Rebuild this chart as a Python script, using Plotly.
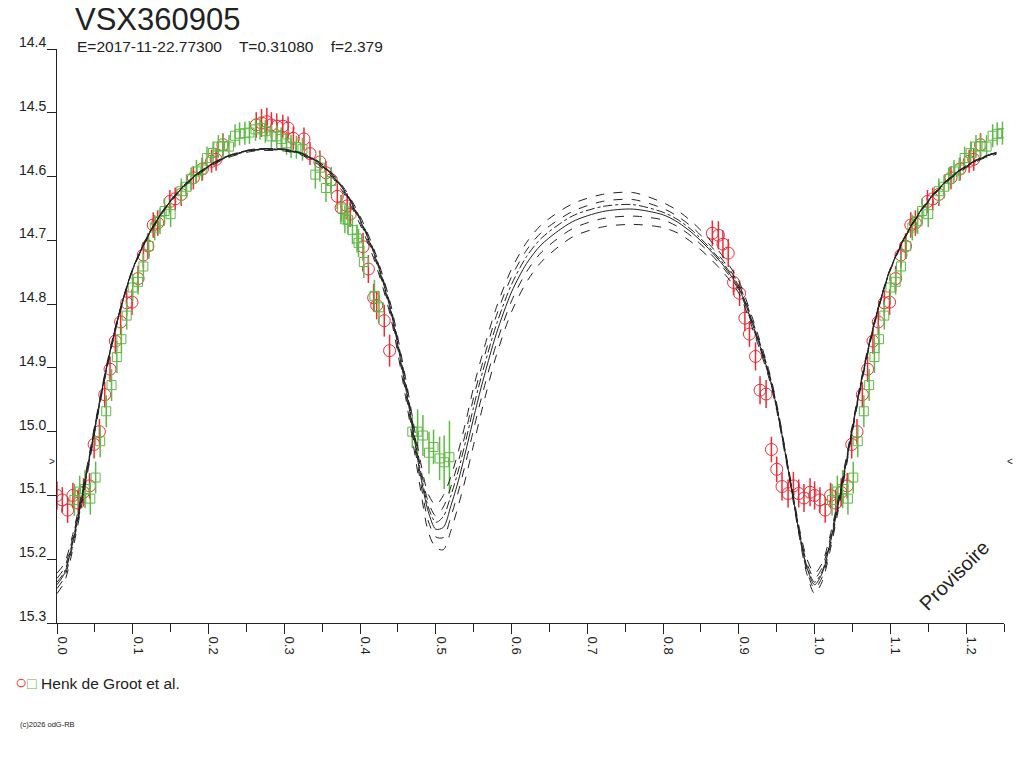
import plotly.graph_objects as go

# ---------------- data ----------------
title_text = "VSX360905"
subtitle_text = "E=2017-11-22.77300    T=0.31080    f=2.379"
legend_text = "Henk de Groot et al."
copyright_text = "(c)2026 odG-RB"
watermark_text = "Provisoire"

x_tick_vals = [0.0, 0.1, 0.2, 0.3, 0.4, 0.5, 0.6, 0.7, 0.8, 0.9, 1.0, 1.1, 1.2]
x_tick_text = ["0.0", "0.1", "0.2", "0.3", "0.4", "0.5", "0.6", "0.7", "0.8", "0.9", "1.0", "1.1", "1.2"]
y_tick_vals = [14.4, 14.5, 14.6, 14.7, 14.8, 14.9, 15.0, 15.1, 15.2, 15.3]
y_tick_text = ["14.4", "14.5", "14.6", "14.7", "14.8", "14.9", "15.0", "15.1", "15.2", "15.3"]
marker_level = 15.047

# red circles: phase, magnitude, error
red_phase = [0.000, 0.007, 0.014, 0.021, 0.028, 0.035, 0.043, 0.049, 0.056, 0.063,
             0.070, 0.077, 0.084, 0.092, 0.099, 0.107, 0.114, 0.120, 0.127, 0.133,
             0.149, 0.156, 0.164, 0.180, 0.192, 0.204, 0.210, 0.219, 0.263, 0.270,
             0.277, 0.283, 0.290, 0.298, 0.305, 0.312, 0.326, 0.334, 0.347, 0.355,
             0.362, 0.370, 0.375, 0.383, 0.387, 0.404, 0.411, 0.418, 0.422, 0.432,
             0.439,
             0.865, 0.873, 0.879, 0.886, 0.893, 0.901, 0.908, 0.914, 0.922, 0.928,
             0.936, 0.943, 0.950, 0.957, 0.965, 0.972, 0.979, 0.986, 0.994]
red_mag = [15.100, 15.107, 15.123, 15.100, 15.112, 15.095, 15.085, 15.020, 15.000, 14.942,
           14.902, 14.858, 14.828, 14.798, 14.797, 14.760, 14.723, 14.709, 14.676, 14.673,
           14.639, 14.635, 14.628, 14.602, 14.588, 14.576, 14.573, 14.550, 14.519, 14.516,
           14.514, 14.519, 14.521, 14.521, 14.524, 14.540, 14.541, 14.564, 14.577, 14.594,
           14.605, 14.631, 14.649, 14.646, 14.659, 14.710, 14.745, 14.790, 14.802, 14.826,
           14.873,
           14.689, 14.692, 14.706, 14.720, 14.766, 14.783, 14.822, 14.847, 14.882, 14.935,
           14.941, 15.028, 15.059, 15.086, 15.097, 15.085, 15.097, 15.104, 15.095]
red_err = [0.022, 0.020, 0.020, 0.020, 0.020, 0.022, 0.020, 0.022, 0.020, 0.020,
           0.020, 0.020, 0.020, 0.020, 0.020, 0.020, 0.020, 0.020, 0.020, 0.020,
           0.018, 0.018, 0.018, 0.018, 0.018, 0.018, 0.018, 0.018, 0.020, 0.022,
           0.022, 0.020, 0.020, 0.018, 0.018, 0.018, 0.018, 0.018, 0.018, 0.018,
           0.018, 0.020, 0.020, 0.020, 0.020, 0.022, 0.022, 0.022, 0.022, 0.025,
           0.025,
           0.020, 0.022, 0.022, 0.022, 0.020, 0.020, 0.020, 0.020, 0.022, 0.022,
           0.022, 0.020, 0.020, 0.022, 0.022, 0.022, 0.022, 0.022, 0.022]

# green squares: phase, magnitude, error
green_phase = [0.023, 0.030, 0.037, 0.044, 0.051, 0.057, 0.065, 0.072, 0.079, 0.085,
               0.092, 0.100, 0.107, 0.114, 0.121, 0.129, 0.136, 0.142, 0.150, 0.164,
               0.171, 0.177, 0.184, 0.191, 0.198, 0.206, 0.213, 0.219, 0.227, 0.235,
               0.241, 0.248, 0.254, 0.262, 0.268, 0.275, 0.283, 0.290, 0.296, 0.303,
               0.309, 0.316, 0.324, 0.341, 0.347, 0.355, 0.362, 0.376, 0.380, 0.384,
               0.390, 0.396, 0.398, 0.405, 0.419, 0.425,
               0.469, 0.476, 0.483, 0.491, 0.497, 0.505, 0.511, 0.518]
green_mag = [15.107, 15.094, 15.090, 15.105, 15.072, 15.015, 14.968, 14.927, 14.883, 14.855,
             14.818, 14.774, 14.765, 14.741, 14.709, 14.680, 14.670, 14.654, 14.659, 14.623,
             14.616, 14.604, 14.592, 14.589, 14.571, 14.563, 14.553, 14.552, 14.553, 14.536,
             14.533, 14.532, 14.531, 14.526, 14.524, 14.529, 14.537, 14.537, 14.541, 14.548,
             14.553, 14.554, 14.557, 14.597, 14.586, 14.618, 14.607, 14.650, 14.667, 14.668,
             14.684, 14.697, 14.704, 14.734, 14.787, 14.805,
             15.000, 15.000, 15.006, 15.033, 15.024, 15.042, 15.048, 15.040]
green_err = [0.025, 0.025, 0.030, 0.025, 0.025, 0.025, 0.025, 0.025, 0.025, 0.022,
             0.022, 0.022, 0.020, 0.020, 0.020, 0.020, 0.020, 0.020, 0.020, 0.020,
             0.018, 0.018, 0.018, 0.018, 0.018, 0.018, 0.018, 0.018, 0.018, 0.018,
             0.018, 0.018, 0.018, 0.018, 0.018, 0.018, 0.018, 0.018, 0.018, 0.018,
             0.018, 0.018, 0.018, 0.022, 0.022, 0.022, 0.022, 0.022, 0.022, 0.022,
             0.022, 0.022, 0.022, 0.025, 0.025, 0.025,
             0.026, 0.035, 0.032, 0.033, 0.027, 0.034, 0.042, 0.057]

# model curves (phase grid shared by all six curves)
curve_phase = [0.00, 0.01, 0.02, 0.03, 0.04, 0.05, 0.06, 0.07, 0.08, 0.09,
               0.10, 0.12, 0.14, 0.16, 0.18, 0.20, 0.22, 0.24, 0.26, 0.28,
               0.30, 0.32, 0.34, 0.36, 0.38, 0.40, 0.42, 0.44, 0.46, 0.47,
               0.48, 0.49, 0.50, 0.51, 0.52, 0.53, 0.54, 0.55, 0.56, 0.58,
               0.60, 0.62, 0.64, 0.68, 0.72, 0.76, 0.80, 0.82, 0.84, 0.86,
               0.88, 0.90, 0.92, 0.94, 0.95, 0.96, 0.97, 0.98, 0.99, 1.00]
curve_a = [15.222, 15.206, 15.165, 15.112, 15.052, 14.989, 14.927, 14.871, 14.822, 14.780,
           14.744, 14.692, 14.653, 14.623, 14.600, 14.583, 14.570, 14.562, 14.557, 14.556,
           14.557, 14.562, 14.572, 14.591, 14.620, 14.662, 14.719, 14.798, 14.915, 14.983,
           15.048, 15.098, 15.115, 15.100, 15.070, 15.030, 14.982, 14.930, 14.885, 14.805,
           14.745, 14.703, 14.675, 14.643, 14.628, 14.625, 14.641, 14.654, 14.673, 14.697,
           14.727, 14.764, 14.829, 14.905, 14.956, 15.020, 15.086, 15.152, 15.200, 15.222]
curve_b = [15.230, 15.213, 15.170, 15.116, 15.055, 14.991, 14.929, 14.873, 14.823, 14.781,
           14.744, 14.692, 14.653, 14.623, 14.600, 14.583, 14.570, 14.562, 14.557, 14.556,
           14.557, 14.562, 14.573, 14.592, 14.622, 14.665, 14.722, 14.802, 14.920, 14.990,
           15.057, 15.110, 15.132, 15.118, 15.086, 15.046, 14.998, 14.946, 14.900, 14.818,
           14.757, 14.715, 14.687, 14.655, 14.639, 14.636, 14.650, 14.663, 14.681, 14.705,
           14.733, 14.769, 14.833, 14.908, 14.959, 15.022, 15.089, 15.156, 15.207, 15.230]
curve_c = [15.236, 15.219, 15.175, 15.119, 15.058, 14.993, 14.930, 14.874, 14.824, 14.781,
           14.745, 14.693, 14.654, 14.624, 14.601, 14.584, 14.571, 14.563, 14.558, 14.557,
           14.558, 14.563, 14.574, 14.593, 14.623, 14.667, 14.724, 14.805, 14.925, 14.995,
           15.063, 15.118, 15.142, 15.133, 15.100, 15.060, 15.012, 14.961, 14.914, 14.832,
           14.769, 14.725, 14.696, 14.662, 14.647, 14.644, 14.656, 14.668, 14.686, 14.710,
           14.737, 14.772, 14.836, 14.910, 14.961, 15.024, 15.091, 15.158, 15.212, 15.236]
curve_d = [15.240, 15.222, 15.178, 15.122, 15.060, 14.995, 14.932, 14.875, 14.825, 14.782,
           14.745, 14.693, 14.654, 14.624, 14.601, 14.584, 14.571, 14.563, 14.558, 14.557,
           14.558, 14.563, 14.574, 14.594, 14.624, 14.668, 14.726, 14.808, 14.930, 15.000,
           15.070, 15.125, 15.153, 15.150, 15.116, 15.076, 15.028, 14.978, 14.930, 14.846,
           14.781, 14.736, 14.706, 14.671, 14.655, 14.651, 14.660, 14.672, 14.690, 14.713,
           14.740, 14.775, 14.838, 14.912, 14.962, 15.025, 15.092, 15.160, 15.214, 15.240]
curve_e = [15.246, 15.228, 15.183, 15.126, 15.063, 14.997, 14.934, 14.877, 14.826, 14.783,
           14.746, 14.694, 14.655, 14.625, 14.602, 14.585, 14.572, 14.564, 14.559, 14.558,
           14.559, 14.564, 14.575, 14.595, 14.626, 14.671, 14.730, 14.812, 14.937, 15.008,
           15.080, 15.140, 15.165, 15.166, 15.133, 15.093, 15.046, 14.996, 14.948, 14.862,
           14.795, 14.749, 14.718, 14.682, 14.666, 14.662, 14.668, 14.679, 14.696, 14.718,
           14.744, 14.778, 14.841, 14.914, 14.964, 15.027, 15.094, 15.163, 15.219, 15.246]
curve_f = [15.254, 15.235, 15.189, 15.131, 15.067, 15.000, 14.936, 14.879, 14.828, 14.784,
           14.747, 14.695, 14.656, 14.626, 14.603, 14.586, 14.573, 14.565, 14.560, 14.559,
           14.560, 14.565, 14.577, 14.597, 14.629, 14.675, 14.735, 14.818, 14.945, 15.018,
           15.092, 15.157, 15.182, 15.185, 15.155, 15.115, 15.070, 15.020, 14.970, 14.880,
           14.812, 14.765, 14.733, 14.695, 14.679, 14.675, 14.680, 14.689, 14.705, 14.726,
           14.751, 14.783, 14.845, 14.917, 14.967, 15.030, 15.097, 15.166, 15.224, 15.254]
curve_sets = [curve_a, curve_b, curve_c, curve_d, curve_e, curve_f]
curve_dashes = ["dash", "dash", "dashdot", "solid", "dash", "dash"]

RED = "#ee2a35"
GREEN = "#5fba46"
INK = "#222222"
FONT = "Liberation Sans"


def wrap(phases, values):
    """Repeat the part of the phase diagram that falls in 0..0.25 after phase 1."""
    xs = list(phases)
    ys = list(values)
    for p, v in zip(phases, values):
        if p <= 0.25 and p + 1.0 <= 1.25:
            xs.append(p + 1.0)
            ys.append(v)
    return xs, ys


fig = go.Figure()

# observations
for ph, mg, er, col, sym, size in [
    (red_phase, red_mag, red_err, RED, "circle-open", 12),
    (green_phase, green_mag, green_err, GREEN, "square-open", 9),
]:
    xs, ys = wrap(ph, mg)
    _, es = wrap(ph, er)
    fig.add_trace(go.Scatter(
        x=xs, y=ys, mode="markers",
        marker=dict(symbol=sym, size=size, color=col, line=dict(width=1, color=col)),
        error_y=dict(type="data", array=es, visible=True, color=col, thickness=1.5, width=0),
        showlegend=False, cliponaxis=True,
    ))

# model curves
for cv, dash in zip(curve_sets, curve_dashes):
    xs, ys = wrap(curve_phase, cv)
    order = sorted(range(len(xs)), key=lambda i: xs[i])
    pts = []
    seen = set()
    for i in order:
        key = round(xs[i], 4)
        if key in seen:
            continue
        seen.add(key)
        pts.append((xs[i], ys[i]))
    fig.add_trace(go.Scatter(
        x=[p[0] for p in pts], y=[p[1] for p in pts], mode="lines",
        line=dict(color=INK, width=1, dash=dash, shape="spline", smoothing=0.8),
        showlegend=False, hoverinfo="skip",
    ))

annotations = [
    dict(text=subtitle_text, xref="paper", yref="paper", x=0.019, y=1.0035, xanchor="left",
         yanchor="middle", showarrow=False, font=dict(family=FONT, size=15.5, color=INK)),
    dict(text="<span style='color:%s;font-size:20px'>○</span><span style='color:%s;font-size:16px'>□</span> %s"
              % (RED, GREEN, legend_text),
         xref="paper", yref="paper", x=-0.0465, y=-0.1028, xanchor="left", yanchor="middle",
         showarrow=False, font=dict(family=FONT, size=15.5, color=INK)),
    dict(text=copyright_text, xref="paper", yref="paper", x=-0.0412, y=-0.1777, xanchor="left",
         yanchor="middle", showarrow=False, font=dict(family=FONT, size=7.5, color=INK)),
    dict(text=watermark_text, xref="paper", yref="paper", x=0.948, y=0.083, xanchor="center",
         yanchor="middle", textangle=-45, showarrow=False, font=dict(family=FONT, size=20, color=INK)),
    dict(text="&gt;", xref="paper", yref="y", x=0.0, y=marker_level, xanchor="right", xshift=0,
         yanchor="middle", showarrow=False, font=dict(family=FONT, size=10, color=INK)),
    dict(text="&lt;", xref="paper", yref="y", x=1.0, y=marker_level, xanchor="left", xshift=1,
         yanchor="middle", showarrow=False, font=dict(family=FONT, size=10, color=INK)),
]
for v, t in zip(y_tick_vals, y_tick_text):
    annotations.append(dict(text=t, xref="paper", yref="y", x=0.0, y=v, xanchor="right", xshift=-9,
                            yanchor="bottom", yshift=-3, showarrow=False,
                            font=dict(family=FONT, size=14, color=INK)))

fig.update_layout(
    width=1024, height=768,
    margin=dict(l=57, r=20, t=49, b=145),
    paper_bgcolor="white", plot_bgcolor="white",
    title=dict(text=title_text, xref="container", yref="container", x=75 / 1024, y=1 - 19 / 768,
               xanchor="left", yanchor="middle", font=dict(family=FONT, size=31, color=INK)),
    font=dict(family=FONT, size=12, color=INK),
    xaxis=dict(range=[0, 1.25], showgrid=False, zeroline=False, showline=True, linecolor=INK,
               linewidth=1, ticks="outside", ticklen=10, tickcolor=INK, tickwidth=1,
               tickvals=x_tick_vals, ticktext=x_tick_text, tickangle=90, ticklabelshift=5,
               tickfont=dict(family=FONT, size=13, color=INK),
               minor=dict(dtick=0.05, tick0=0, ticks="outside", ticklen=8, tickcolor=INK, tickwidth=1)),
    yaxis=dict(range=[15.3, 14.4], showgrid=False, zeroline=False, showline=True, linecolor=INK,
               linewidth=1, ticks="outside", ticklen=9, tickcolor=INK, tickwidth=1,
               tickvals=y_tick_vals, ticktext=y_tick_text, showticklabels=False),
    annotations=annotations,
)

fig.write_html("out.html", config={"displayModeBar": False},
               post_script="document.body.style.margin='0px';document.body.style.overflow='hidden';")
